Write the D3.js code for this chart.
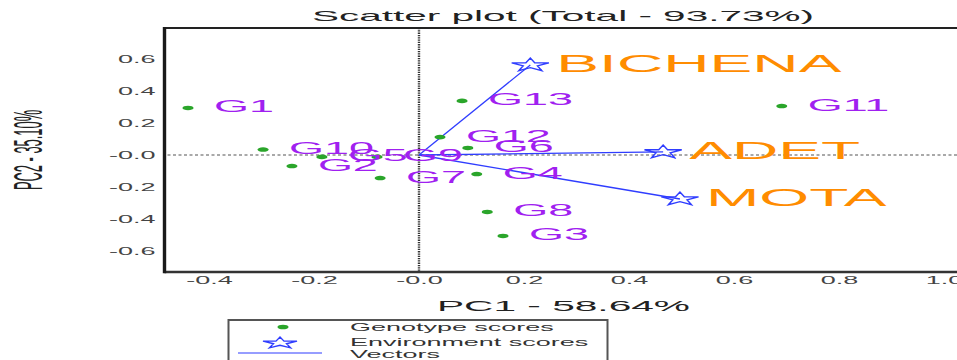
<!DOCTYPE html>
<html>
<head>
<meta charset="utf-8">
<script src="https://cdn.jsdelivr.net/npm/d3@7"></script>
<style>
  html, body { margin: 0; padding: 0; background: #fff; overflow: hidden; }
  text { font-family: "Liberation Sans", Arial, Helvetica, sans-serif; }
</style>
</head>
<body>
<svg id="chart" width="957" height="360"></svg>
<script>
// Genotype scores (PC1, PC2)
const genotypes = ["G1", "G2", "G3", "G4", "G5", "G6", "G7", "G8", "G9", "G10", "G11", "G12", "G13"];
const genoPC1 = [-0.440, -0.242, 0.160, 0.110, -0.185, 0.093, -0.074, 0.130, -0.080, -0.297, 0.691, 0.040, 0.082];
const genoPC2 = [0.294, -0.069, -0.506, -0.119, -0.012, 0.044, -0.144, -0.356, -0.012, 0.034, 0.306, 0.112, 0.338];

// Environment scores (PC1, PC2)
const environments = ["BICHENA", "ADET", "MOTA"];
const envPC1 = [0.212, 0.465, 0.497];
const envPC2 = [0.5625, 0.019, -0.275];

// Axis ticks and labels
const xTicks = [-0.4, -0.2, 0, 0.2, 0.4, 0.6, 0.8, 1.0];
const xTickLabels = ["-0.4", "-0.2", "-0.0", "0.2", "0.4", "0.6", "0.8", "1.0"];
const yTicks = [-0.6, -0.4, -0.2, 0, 0.2, 0.4, 0.6];
const yTickLabels = ["-0.6", "-0.4", "-0.2", "-0.0", "0.2", "0.4", "0.6"];

const titleText = "Scatter plot (Total - 93.73%)";
const xTitle = "PC1 - 58.64%";
const yTitle = "PC2 - 35.10%";
const legendLabels = ["Genotype scores", "Environment scores", "Vectors"];

// Styling
const GREEN = "#2aa52a", BLUE = "#2f3dff", PURPLE = "#a020f0", ORANGE = "#ff8c00";
const SX = 2.72; // horizontal glyph stretch

const svg = d3.select("#chart");

// Scales
const x = d3.scaleLinear().domain([-0.4, 1.0]).range([209, 944]);
const y = d3.scaleLinear().domain([-0.6, 0.6]).range([251, 59]);

// Plot frame limits
const frame = { left: 164.5, top: 28, bottom: 272, right: 990 };

function stretch(sel, sx) {
  sel.each(function () {
    const len = this.getComputedTextLength();
    d3.select(this).attr("textLength", len * sx).attr("lengthAdjust", "spacingAndGlyphs");
  });
}

// Zero reference lines
svg.append("line")
  .attr("x1", frame.left + 3).attr("x2", frame.right)
  .attr("y1", y(0)).attr("y2", y(0))
  .attr("stroke", "#555").attr("stroke-width", 1.2)
  .attr("stroke-dasharray", "3,2.5");
svg.append("line")
  .attr("x1", x(0)).attr("x2", x(0))
  .attr("y1", frame.top).attr("y2", frame.bottom)
  .attr("stroke", "#333").attr("stroke-width", 2.4)
  .attr("stroke-dasharray", "1.3,1");

// Frame
svg.append("line").attr("x1", frame.left).attr("x2", frame.right)
  .attr("y1", frame.top).attr("y2", frame.top)
  .attr("stroke", "#222").attr("stroke-width", 2);
svg.append("line").attr("x1", frame.left).attr("x2", frame.right)
  .attr("y1", frame.bottom).attr("y2", frame.bottom)
  .attr("stroke", "#333").attr("stroke-width", 2.5);
svg.append("line").attr("x1", frame.left).attr("x2", frame.left)
  .attr("y1", frame.top - 1).attr("y2", frame.bottom + 1.2)
  .attr("stroke", "#1a1a1a").attr("stroke-width", 3.4);

// Axes (labels only)
const yAxis = svg.append("g")
  .attr("transform", `translate(${frame.left},0)`)
  .call(d3.axisLeft(y).tickValues(yTicks).tickFormat((d, i) => yTickLabels[i]).tickSize(0).tickPadding(9));
yAxis.select(".domain").remove();
yAxis.selectAll("text").attr("font-size", 10).attr("fill", "#444")
  .style("font-family", "'Liberation Sans', Arial, sans-serif");
stretch(yAxis.selectAll("text"), 2.7);

const xAxis = svg.append("g")
  .attr("transform", `translate(0,${frame.bottom})`)
  .call(d3.axisBottom(x).tickValues(xTicks).tickFormat((d, i) => xTickLabels[i]).tickSize(0).tickPadding(5));
xAxis.select(".domain").remove();
xAxis.selectAll("text").attr("font-size", 10).attr("fill", "#444")
  .style("font-family", "'Liberation Sans', Arial, sans-serif");
stretch(xAxis.selectAll("text"), 2.7);

// Titles
const t = svg.append("text").attr("x", 563).attr("y", 21)
  .attr("text-anchor", "middle").attr("font-size", 15).attr("fill", "#222").text(titleText);
stretch(t, 2.7);

const xt = svg.append("text").attr("x", 563.5).attr("y", 311)
  .attr("text-anchor", "middle").attr("font-size", 15).attr("fill", "#222").text(xTitle);
stretch(xt, 2.71);

const yt = svg.append("g").attr("transform", "translate(42,150) scale(2.7,1) rotate(-90)")
  .append("text").attr("text-anchor", "middle").attr("font-size", 15).attr("fill", "#222").text(yTitle);
stretch(yt, 0.86);

// Vectors from origin to environments
const envData = environments.map((e, i) => ({ name: e, pc1: envPC1[i], pc2: envPC2[i] }));
svg.append("g").selectAll("line").data(envData).join("line")
  .attr("x1", x(0)).attr("y1", y(0))
  .attr("x2", d => x(d.pc1)).attr("y2", d => y(d.pc2))
  .attr("stroke", BLUE).attr("stroke-width", 1.3);

// Genotype points
const genoData = genotypes.map((g, i) => ({ name: g, pc1: genoPC1[i], pc2: genoPC2[i] }));
svg.append("g").selectAll("ellipse").data(genoData).join("ellipse")
  .attr("cx", d => x(d.pc1)).attr("cy", d => y(d.pc2))
  .attr("rx", 5.5).attr("ry", 2.3).attr("fill", GREEN);

// Environment stars
const starPath = d3.symbol(d3.symbolStar, 55)();
svg.append("g").selectAll("path").data(envData).join("path")
  .attr("d", starPath)
  .attr("transform", d => `translate(${x(d.pc1)},${y(d.pc2)}) scale(2.8,1)`)
  .attr("fill", "none").attr("stroke", BLUE).attr("stroke-width", 1.4)
  .attr("vector-effect", "non-scaling-stroke");

// Genotype labels
const gl = svg.append("g").selectAll("text").data(genoData).join("text")
  .attr("x", d => x(d.pc1) + 26).attr("y", d => y(d.pc2) + 4.5)
  .attr("font-size", 16.5).attr("fill", PURPLE).text(d => d.name);
stretch(gl, SX);

// Environment labels
const el = svg.append("g").selectAll("text").data(envData).join("text")
  .attr("x", d => x(d.pc1) + 26).attr("y", d => y(d.pc2) + 7)
  .attr("font-size", 23.5).attr("fill", ORANGE).text(d => d.name);
stretch(el, 2.73);

// Legend
const lg = svg.append("g");
lg.append("rect").attr("x", 228.5).attr("y", 320).attr("width", 379).attr("height", 60)
  .attr("fill", "#fff").attr("stroke", "#555").attr("stroke-width", 2);
lg.append("ellipse").attr("cx", 283).attr("cy", 327).attr("rx", 5.5).attr("ry", 2.3).attr("fill", GREEN);
lg.append("path").attr("d", d3.symbol(d3.symbolStar, 40)())
  .attr("transform", "translate(280,343) scale(3.0,1)")
  .attr("fill", "none").attr("stroke", BLUE).attr("stroke-width", 1.4)
  .attr("vector-effect", "non-scaling-stroke");
lg.append("line").attr("x1", 238).attr("x2", 322).attr("y1", 353).attr("y2", 353)
  .attr("stroke", BLUE).attr("stroke-width", 1.2);
const lt = lg.selectAll("text").data(legendLabels).join("text")
  .attr("x", 350).attr("y", (d, i) => [331, 346, 357.5][i])
  .attr("font-size", 11).attr("fill", "#333").text(d => d);
stretch(lt, 2.45);
</script>
</body>
</html>
